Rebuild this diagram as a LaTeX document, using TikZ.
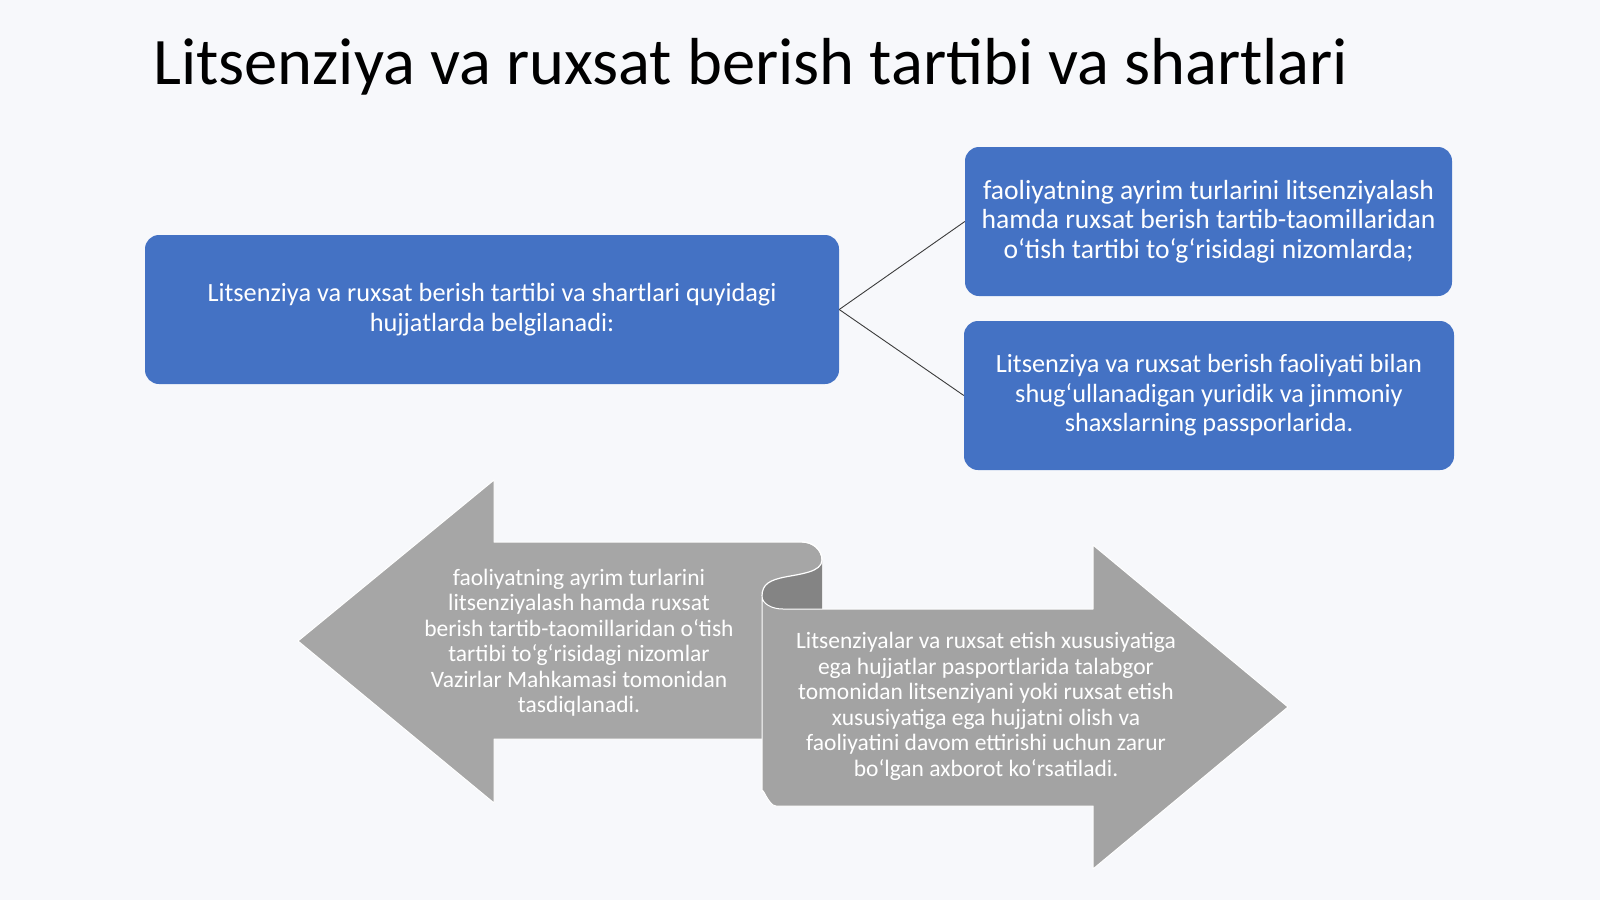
\documentclass[tikz,border=0pt]{standalone}
\usepackage{fontspec}
\setmainfont{Carlito}
\definecolor{bgc}{RGB}{247,248,251}
\definecolor{blueb}{RGB}{68,114,196}
\definecolor{grayA}{RGB}{166,166,166}
\definecolor{grayB}{RGB}{163,163,163}
\definecolor{grayD}{RGB}{132,132,132}
\definecolor{linec}{RGB}{60,60,60}
\begin{document}
\begin{tikzpicture}[x=1pt,y=-1pt,
  bluebox/.style={fill=blueb, rounded corners=14pt, text=white, align=center,
    font=\fontsize{26.3}{29.5}\selectfont, inner sep=0pt},
  conn/.style={draw=linec, line width=0.9pt},
  arrtext/.style={text=white, align=center, font=\fontsize{23.5}{25.5}\selectfont, inner sep=0pt},
  arrbody/.style={draw=white, line width=1pt, line join=round}]
\fill[bgc] (0,0) rectangle (1600,900);
\useasboundingbox (0,0) rectangle (1600,900);

\node[anchor=base west, inner sep=0pt, font=\fontsize{66.5}{72}\selectfont] (title) at (153,84)
  {Litsenziya va ruxsat berish tartibi va shartlari};

\node[bluebox, minimum width=694pt, minimum height=149pt] (main) at (492,309.5)
  {Litsenziya va ruxsat berish tartibi va shartlari quyidagi\\hujjatlarda belgilanadi:};
\node[bluebox, minimum width=487pt, minimum height=149pt, font=\fontsize{27.6}{29.5}\selectfont] (top) at (1208.5,221.5)
  {faoliyatning ayrim turlarini litsenziyalash\\hamda ruxsat berish tartib-taomillaridan\\o‘tish tartibi to‘g‘risidagi nizomlarda;};
\node[bluebox, minimum width=490pt, minimum height=149pt] (bot) at (1209,395.5)
  {Litsenziya va ruxsat berish faoliyati bilan\\shug‘ullanadigan yuridik va jinmoniy\\shaxslarning passporlarida.};

\draw[conn] (main.east) -- (top.west);
\draw[conn] (main.east) -- (bot.west);

% left arrow
\path[arrbody, fill=grayA] (298,641) -- (494,480) -- (494,542) -- (802,542)
  to[out=0,in=90] (822,560) -- (822,739) -- (494,739) -- (494,803) -- cycle;
% inner side of the curl
\path[fill=grayD] (822,560) .. controls (822,572) and (800,574) .. (785,577)
  .. controls (770,580) and (762,584) .. (762,596) -- (762,609) -- (822,609) -- cycle;
\draw[white, line width=1.2pt] (802,542) to[out=0,in=90] (822,560)
  .. controls (822,572) and (800,574) .. (785,577)
  .. controls (770,580) and (762,584) .. (762,596);
% right arrow
\path[arrbody, fill=grayB] (783,609) -- (1093,609) -- (1093,545) -- (1288,707) -- (1093,869)
  -- (1093,806) -- (776,806) to[out=180,in=90] (762,792) -- (762,596)
  .. controls (762,604) and (772,609) .. (783,609) -- cycle;

\node[arrtext] (ltext) at (579,642.5)
  {faoliyatning ayrim turlarini\\litsenziyalash hamda ruxsat\\berish tartib-taomillaridan o‘tish\\tartibi to‘g‘risidagi nizomlar\\Vazirlar Mahkamasi tomonidan\\tasdiqlanadi.};
\node[arrtext] (rtext) at (986,706.5)
  {Litsenziyalar va ruxsat etish xususiyatiga\\ega hujjatlar pasportlarida talabgor\\tomonidan litsenziyani yoki ruxsat etish\\xususiyatiga ega hujjatni olish va\\faoliyatini davom ettirishi uchun zarur\\bo‘lgan axborot ko‘rsatiladi.};
\end{tikzpicture}
\end{document}
